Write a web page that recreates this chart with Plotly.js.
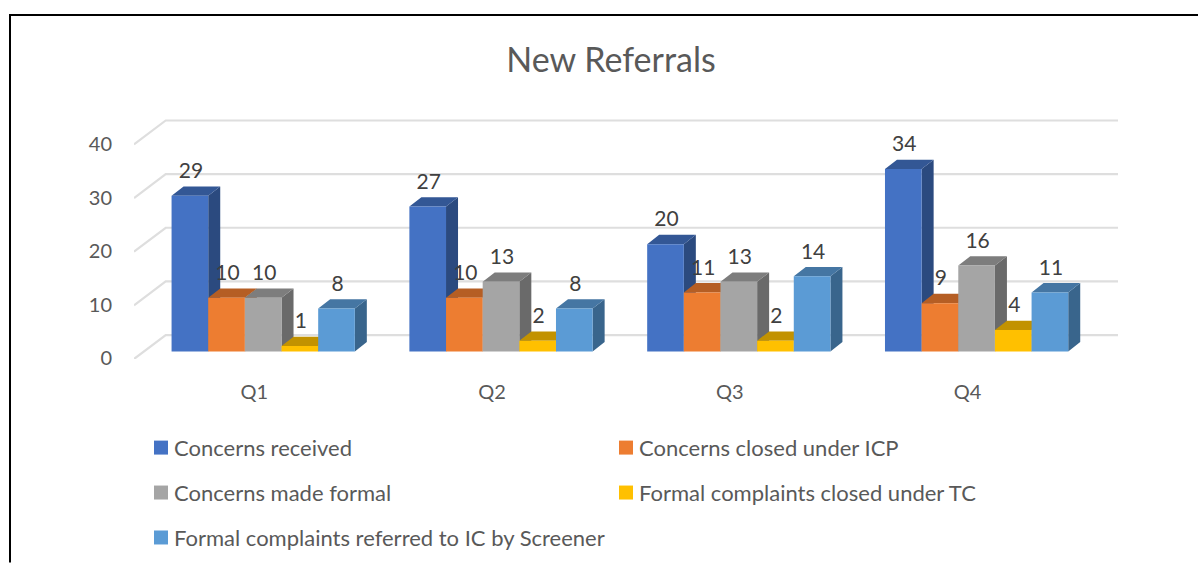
<!DOCTYPE html>
<html>
<head>
<meta charset="utf-8">
<script src="https://cdn.plot.ly/plotly-3.0.1.min.js"></script>
<style>html,body{margin:0;padding:0;background:#fff;overflow:hidden}#chart{width:1198px;height:563px}</style>
</head>
<body>
<div id="chart"></div>
<script>
const categories = ['Q1', 'Q2', 'Q3', 'Q4'];
const concernsReceived = [29, 27, 20, 34];
const concernsClosedICP = [10, 10, 11, 9];
const concernsMadeFormal = [10, 13, 13, 16];
const closedUnderTC = [1, 2, 2, 4];
const referredToIC = [8, 8, 14, 11];
const seriesNames = ['Concerns received', 'Concerns closed under ICP', 'Concerns made formal',
  'Formal complaints closed under TC', 'Formal complaints referred to IC by Screener'];
const frontColors = ['#4472C4', '#ED7D31', '#A5A5A5', '#FFC000', '#5B9BD5'];
const topColors = ['#335795', '#B55E24', '#7D7D7D', '#C29200', '#4576A3'];
const sideColors = ['#2B4A7F', '#9A501E', '#6A6A6A', '#A57C00', '#39658C'];
const yTicks = [0, 10, 20, 30, 40];

const seriesValues = [concernsReceived, concernsClosedICP, concernsMadeFormal, closedUnderTC, referredToIC];
const W = 1198, H = 563;
const pxL = 134, pxR = 1118, pxT = 112, pxB = 359.3;
const pxPerCat = 237.8, pxPerUnit = 5.37, cat0Px = 263.2, zeroPx = 351.7;
const xRange = [(pxL - cat0Px) / pxPerCat, (pxR - cat0Px) / pxPerCat];
const yRange = [(zeroPx - pxB) / pxPerUnit, (zeroPx - pxT) / pxPerUnit];
const barW = 36.65 / pxPerCat;
const depthX = 12 / pxPerCat, depthY = 9.3 / pxPerUnit;
const wallBackX = (165.7 - cat0Px) / pxPerCat, wallBackY = 16.4 / pxPerUnit;
const n = seriesValues.length;
const left = (c, s) => c + (s - n / 2) * barW;

const traces = [];
// back wall gridlines
yTicks.forEach(v => traces.push({
  type: 'scatter', mode: 'lines', x: [xRange[0], wallBackX, xRange[1]],
  y: [v + yRange[0], v + wallBackY, v + wallBackY],
  line: {color: '#DEDEDE', width: 2.2}, hoverinfo: 'skip', showlegend: false, cliponaxis: false
}));
// side and top faces of each bar, behind the front faces
seriesValues.forEach((vals, s) => {
  const sx = [], sy = [], tx = [], ty = [];
  vals.forEach((v, c) => {
    const l = left(c, s), r = l + barW;
    sx.push(r, r, r + depthX, r + depthX, r, null);
    sy.push(0, v, v + depthY, depthY, 0, null);
    tx.push(l, r, r + depthX, l + depthX, l, null);
    ty.push(v, v, v + depthY, v + depthY, v, null);
  });
  traces.push({type: 'scatter', mode: 'none', x: sx, y: sy, fill: 'toself', fillcolor: sideColors[s], hoverinfo: 'skip', showlegend: false});
  traces.push({type: 'scatter', mode: 'none', x: tx, y: ty, fill: 'toself', fillcolor: topColors[s], hoverinfo: 'skip', showlegend: false});
});
// front faces
seriesValues.forEach((vals, s) => traces.push({
  type: 'bar', name: seriesNames[s], x: categories.map((_, c) => c), y: vals,
  marker: {color: frontColors[s], line: {width: 0}}, xaxis: 'x2', yaxis: 'y2', showlegend: false
}));
// data labels
seriesValues.forEach((vals, s) => traces.push({
  type: 'scatter', mode: 'text', xaxis: 'x2', yaxis: 'y2', showlegend: false, hoverinfo: 'skip',
  x: vals.map((_, c) => left(c, s) + barW / 2 + 1 / pxPerCat),
  y: vals.map(v => v + depthY + 0.6),
  text: vals.map(String), textposition: 'top center', cliponaxis: false,
  textfont: {family: 'Lato, sans-serif', size: 21, color: '#404040'}
}));

// paper coordinates are relative to the plot area
const fx = p => (p - pxL) / (pxR - pxL), fy = p => 1 - (p - pxT) / (pxB - pxT);
const shapes = [
  {type: 'line', xref: 'paper', yref: 'paper', x0: fx(10), x1: fx(1198), y0: fy(15), y1: fy(15), line: {color: '#000', width: 2}},
  {type: 'line', xref: 'paper', yref: 'paper', x0: fx(10), x1: fx(10), y0: fy(14), y1: fy(563), line: {color: '#000', width: 2}}
];
const annotations = [];
const legendX = [154, 619], legendY = [448, 493, 538];
seriesNames.forEach((name, s) => {
  const lx = legendX[s % 2], ly = legendY[Math.floor(s / 2)];
  shapes.push({type: 'rect', xref: 'paper', yref: 'paper', x0: fx(lx), x1: fx(lx + 14), y0: fy(ly - 7), y1: fy(ly + 7), fillcolor: frontColors[s], line: {width: 0}});
  annotations.push({xref: 'paper', yref: 'paper', x: fx(lx + 18), y: fy(ly), xanchor: 'left', yanchor: 'middle', showarrow: false, text: name,
    font: {family: 'Lato, sans-serif', size: 22, color: '#595959'}});
});

const layout = {
  width: W, height: H, showlegend: false, paper_bgcolor: '#fff', plot_bgcolor: 'rgba(0,0,0,0)',
  margin: {l: pxL, r: W - pxR, t: pxT, b: H - pxB, pad: 0},
  barmode: 'group', bargap: 1 - n * barW, bargroupgap: 0,
  title: {text: 'New Referrals', x: 611 / W, xanchor: 'center', y: 1 - 60 / H, yanchor: 'middle',
    font: {family: 'Lato, sans-serif', size: 34, color: '#595959'}},
  xaxis: {range: xRange, tickmode: 'array', tickvals: categories.map((_, c) => c), ticktext: categories,
    showgrid: false, zeroline: false, showline: false, ticks: '', ticklabelstandoff: 19, ticklabelshift: -9,
    tickfont: {family: 'Lato, sans-serif', size: 20, color: '#595959'}},
  yaxis: {range: yRange, tickmode: 'array', tickvals: yTicks, showgrid: false, zeroline: false, showline: false,
    ticks: '', ticklabelstandoff: 21, ticklabelshift: 7,
    tickfont: {family: 'Lato, sans-serif', size: 20, color: '#595959'}},
  xaxis2: {range: xRange, overlaying: 'x', visible: false},
  yaxis2: {range: yRange, overlaying: 'y', visible: false},
  shapes, annotations
};
Plotly.newPlot('chart', traces, layout, {displayModeBar: false, responsive: false});
</script>
</body>
</html>
